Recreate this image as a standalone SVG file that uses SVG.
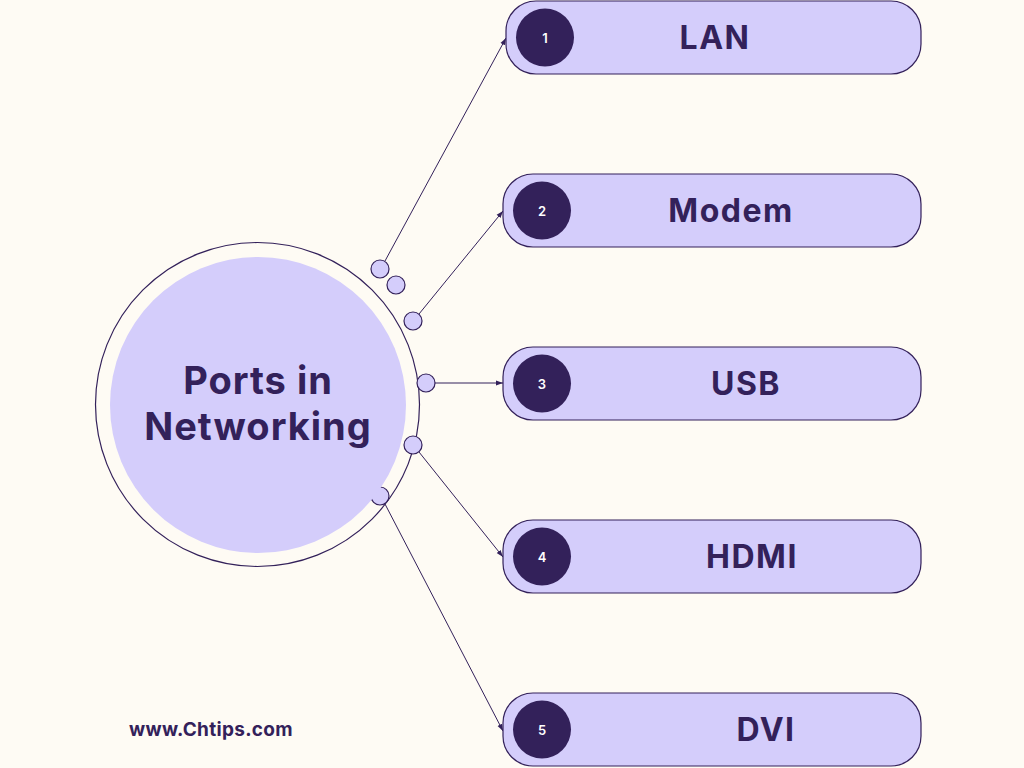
<svg xmlns="http://www.w3.org/2000/svg" width="1024" height="768" viewBox="0 0 1024 768">
<defs>
<style>
.pill{fill:#d4cdfb;stroke:#33215a;stroke-width:1.2}
.num{fill:#33215a}
.numt{fill:#ffffff;font-family:Inter,"Liberation Sans",sans-serif;font-size:13px;font-weight:600;text-anchor:middle;dominant-baseline:central}
.lbl{fill:#33215a;font-family:Inter,"Liberation Sans",sans-serif;font-size:32px;letter-spacing:1.5px;font-weight:700;text-anchor:middle;dominant-baseline:central}
.hub{font-size:38px;letter-spacing:1px}
.dot{fill:#d4cdfb;stroke:#33215a;stroke-width:1.2}
.con{stroke:#33215a;stroke-width:1;fill:none;marker-end:url(#ah)}
</style>
<marker id="ah" markerWidth="8" markerHeight="8" refX="7" refY="4" orient="auto" markerUnits="userSpaceOnUse">
<path d="M0,1.5 L7,4 L0,6.5 Z" fill="#33215a"/>
</marker>
</defs>
<rect width="1024" height="768" fill="#fefbf4"/>
<g id="connectors">
<line class="con" x1="385" y1="261" x2="506" y2="38"/>
<line class="con" x1="419" y1="314" x2="503" y2="211"/>
<line class="con" x1="435" y1="383" x2="503" y2="383"/>
<line class="con" x1="419" y1="452" x2="503" y2="557"/>
<line class="con" x1="385" y1="504" x2="503" y2="731"/>
</g>
<g id="hub">
<circle cx="257.5" cy="404.5" r="162" fill="none" stroke="#33215a" stroke-width="1.2"/>
<circle class="dot" cx="380" cy="496" r="9"/>
<circle cx="258" cy="405" r="148" fill="#d4cdfb"/>
<circle class="dot" cx="380" cy="269" r="9"/>
<circle class="dot" cx="396" cy="285" r="9"/>
<circle class="dot" cx="413" cy="321" r="9"/>
<circle class="dot" cx="426" cy="383" r="9"/>
<circle class="dot" cx="413" cy="445" r="9"/>
<text x="258" y="380" class="lbl hub">Ports in</text>
<text x="258" y="426" class="lbl hub">Networking</text>
</g>
<g id="node1">
<rect class="pill" x="506" y="1" width="415" height="73" rx="30"/>
<circle class="num" cx="545" cy="37.5" r="29"/>
<text class="numt" x="545" y="37.5">1</text>
<text class="lbl" x="715" y="37.5">LAN</text>
</g>
<g id="node2">
<rect class="pill" x="503" y="174" width="418" height="73" rx="30"/>
<circle class="num" cx="542" cy="210.5" r="29"/>
<text class="numt" x="542" y="210.5">2</text>
<text class="lbl" x="731" y="210.5">Modem</text>
</g>
<g id="node3">
<rect class="pill" x="503" y="347" width="418" height="73" rx="30"/>
<circle class="num" cx="542" cy="383.5" r="29"/>
<text class="numt" x="542" y="383.5">3</text>
<text class="lbl" x="746" y="383.5">USB</text>
</g>
<g id="node4">
<rect class="pill" x="503" y="520" width="418" height="73" rx="30"/>
<circle class="num" cx="542" cy="556.5" r="29"/>
<text class="numt" x="542" y="556.5">4</text>
<text class="lbl" x="752" y="556.5">HDMI</text>
</g>
<g id="node5">
<rect class="pill" x="503" y="693" width="418" height="73" rx="30"/>
<circle class="num" cx="542" cy="729.5" r="29"/>
<text class="numt" x="542" y="729.5">5</text>
<text class="lbl" x="766" y="729.5">DVI</text>
</g>
<text x="129" y="736" fill="#33215a" font-family="Inter, 'Liberation Sans', sans-serif" font-size="19" letter-spacing="0.3" font-weight="700">www.Chtips.com</text>
</svg>
